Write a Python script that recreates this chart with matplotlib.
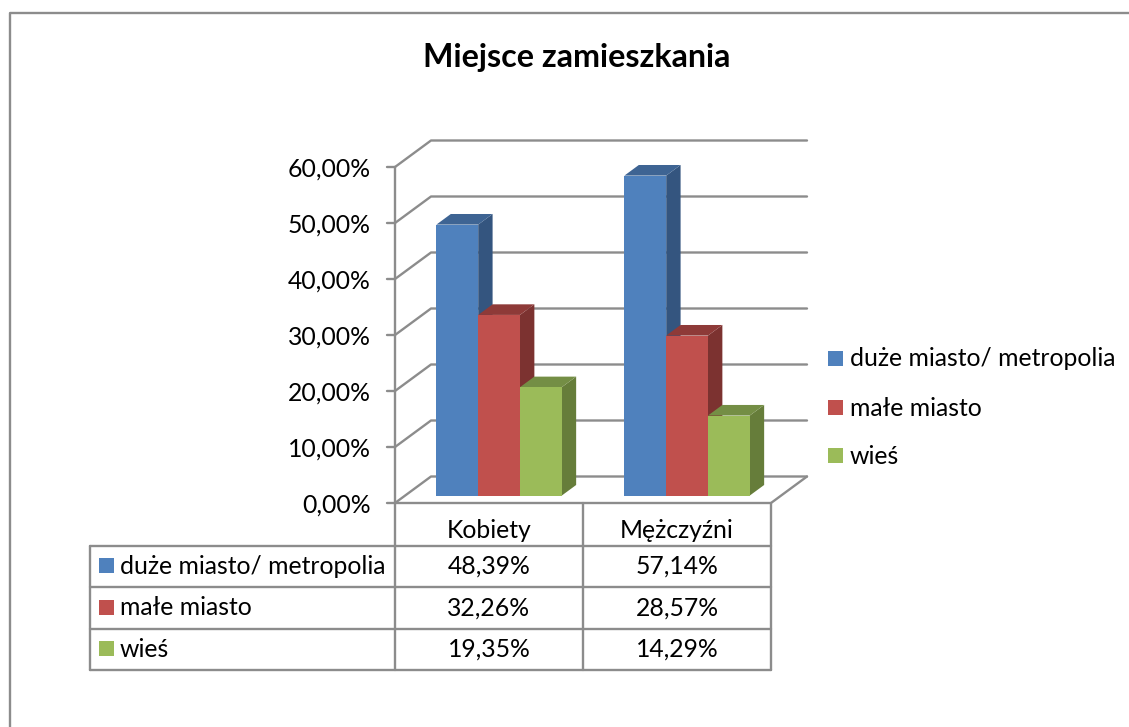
import matplotlib
matplotlib.use('Agg')
import matplotlib.pyplot as plt
from matplotlib.patches import Polygon, Rectangle

plt.rcParams['font.family'] = ['Lato', 'DejaVu Sans']

title = 'Miejsce zamieszkania'
categories = ['Kobiety', 'Mężczyźni']
series_names = ['duże miasto/ metropolia', 'małe miasto', 'wieś']
duze_miasto = [48.39, 57.14]
male_miasto = [32.26, 28.57]
wies = [19.35, 14.29]
y_ticks = [0, 10, 20, 30, 40, 50, 60]

series = [duze_miasto, male_miasto, wies]
front_colors = ['#4F81BD', '#C0504D', '#9BBB59']
side_colors = ['#34557F', '#7C3230', '#667D3A']
top_colors = ['#3E6493', '#8E3A38', '#748E45']
line_color = '#8C8C8C'
W, H = 1129, 727
font_size = 17.8


def pct(v):
    return f'{v:.2f}'.replace('.', ',') + '%'


fig = plt.figure(figsize=(W / 100, H / 100), dpi=100, facecolor='white')

# overlay in pixels for the frame, table and legend
page = fig.add_axes([0, 0, 1, 1])
page.set_xlim(0, W)
page.set_ylim(H, 0)
page.axis('off')

# chart axes: the front plane of the 3D box
left, right, y0, y60 = 395, 771, 503, 167
ax = fig.add_axes([left / W, 1 - y0 / H, (right - left) / W, (y0 - y60) / H])
ax.set_xlim(0, 2)
ax.set_ylim(0, 60)
ax.axis('off')
ax.patch.set_alpha(0)

# wall depth in data units
dx = 36 / ((right - left) / 2)
dy = 26.5 / ((y0 - y60) / 60)

line_kw = dict(color=line_color, lw=1.7, clip_on=False, solid_capstyle='round')
for t in y_ticks:
    ax.plot([0, dx, 2 + dx], [t, t + dy, t + dy], **line_kw)
    ax.plot([-0.045, 0], [t, t], **line_kw)
    ax.text(-0.13, t - 0.45, pct(t), ha='right', va='center', fontsize=font_size, color='black')
ax.plot([0, 0], [0, 60], **line_kw)
ax.plot([0, 2, 2 + dx], [0, 0, dy], **line_kw)

# bars
bar_w = 2 / 9
start = 0.28
depth = 0.4
for c in range(len(categories)):
    for s, vals in enumerate(series):
        v = vals[c]
        x0 = c + 0.5 + (s - 1.5) * bar_w + start * dx
        x1 = x0 + bar_w
        b = start * dy
        ddx, ddy = depth * dx, depth * dy
        ax.add_patch(Polygon([(x1, b), (x1 + ddx, b + ddy), (x1 + ddx, b + v + ddy), (x1, b + v)],
                             fc=side_colors[s], ec='none', clip_on=False, zorder=3 + s))
        ax.add_patch(Polygon([(x0, b + v), (x0 + ddx, b + v + ddy), (x1 + ddx, b + v + ddy), (x1, b + v)],
                             fc=top_colors[s], ec='none', clip_on=False, zorder=3 + s))
        ax.bar(x0, v, bar_w, bottom=b, align='edge', color=front_colors[s], clip_on=False, zorder=3 + s)

# frame
page.plot([10, 10, W], [H, 13, 13], color=line_color, lw=1.7)
page.text(577, 57, title, ha='center', va='center', fontsize=23.2, fontweight='bold', color='black')

# data table
tbl_kw = dict(color=line_color, lw=1.7, solid_capstyle='round')
x_key, x_a, x_b, x_c = 89.5, 395, 583, 771
rows = [503, 545.5, 587, 628.5, 670]
page.plot([x_a, x_a], [rows[0], rows[4]], **tbl_kw)
page.plot([x_b, x_b], [rows[0], rows[4]], **tbl_kw)
page.plot([x_c, x_c], [rows[0], rows[4]], **tbl_kw)
page.plot([x_key, x_key], [rows[1], rows[4]], **tbl_kw)
for r in rows[1:]:
    page.plot([x_key, x_c], [r, r], **tbl_kw)

centers = [(x_a + x_b) / 2, (x_b + x_c) / 2]
for cx, cat in zip(centers, categories):
    page.text(cx, 531, cat, ha='center', va='center', fontsize=font_size, color='black')
for i, (name, vals) in enumerate(zip(series_names, series)):
    cy = (rows[i + 1] + rows[i + 2]) / 2
    page.add_patch(Rectangle((99, cy - 8), 15, 15, fc=front_colors[i], ec='none'))
    page.text(120, cy, name, ha='left', va='center', fontsize=font_size, color='black')
    for cx, v in zip(centers, vals):
        page.text(cx, cy, pct(v), ha='center', va='center', fontsize=font_size, color='black')

# legend
for i, name in enumerate(series_names):
    cy = [358.5, 407.5, 455.5][i]
    page.add_patch(Rectangle((828, cy - 7.5), 15, 15, fc=front_colors[i], ec='none'))
    page.text(850, cy + 0.5, name, ha='left', va='center', fontsize=font_size, color='black')

fig.savefig('out.png', dpi=100)
